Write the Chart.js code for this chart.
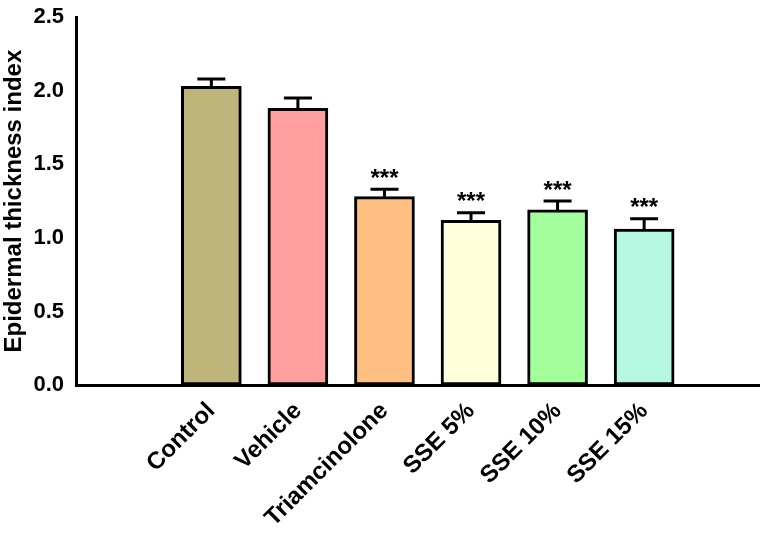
<!DOCTYPE html>
<html>
<head>
<meta charset="utf-8">
<script src="https://cdn.jsdelivr.net/npm/chart.js@4"></script>
<style>
  html, body { margin: 0; padding: 0; background: #fff; }
  #wrap { width: 760px; height: 559px; }
</style>
</head>
<body>
<div id="wrap"><canvas id="chart"></canvas></div>
<script>
// Data
const groups = ['Control', 'Vehicle', 'Triamcinolone', 'SSE 5%', 'SSE 10%', 'SSE 15%'];
const means = [2.03, 1.88, 1.28, 1.12, 1.19, 1.06];
const errors = [0.05, 0.07, 0.05, 0.05, 0.06, 0.07];
const marks = ['', '', '***', '***', '***', '***'];
const colors = ['#bdb57a', '#ff9e9e', '#ffbf80', '#ffffdc', '#a3ff9c', '#b5f7e0'];
const yTicks = [0, 0.5, 1.0, 1.5, 2.0, 2.5];

const FONT = 'Arial, "Liberation Sans", sans-serif';

// Error bars and significance stars
const errorBarPlugin = {
    id: 'errorBars',
    afterDatasetsDraw(chart) {
        const ctx = chart.ctx;
        const x = chart.scales.x, y = chart.scales.y;
        ctx.save();
        ctx.strokeStyle = '#000';
        ctx.lineWidth = 3;
        means.forEach((m, i) => {
            const px = x.getPixelForValue(i + 1);
            const top = y.getPixelForValue(m + errors[i]);
            const base = y.getPixelForValue(m);
            ctx.beginPath();
            ctx.moveTo(px, base);
            ctx.lineTo(px, top);
            ctx.moveTo(px - 14, top);
            ctx.lineTo(px + 14, top);
            ctx.stroke();
            if (marks[i]) {
                ctx.fillStyle = '#000';
                ctx.font = 'bold 24px ' + FONT;
                ctx.textAlign = 'center';
                ctx.textBaseline = 'bottom';
                ctx.fillText(marks[i], px, top + 2);
            }
        });
        ctx.restore();
    }
};

const ctx = document.getElementById('chart').getContext('2d');
new Chart(ctx, {
    type: 'bar',
    data: {
        datasets: [{
            data: means.map((v, i) => ({ x: i + 1, y: v })),
            backgroundColor: colors,
            borderColor: '#000',
            borderWidth: 3,
            borderSkipped: false,
            barThickness: 60
        }]
    },
    options: {
        responsive: true,
        maintainAspectRatio: false,
        animation: false,
        layout: { padding: { top: 16, right: 0, left: 0, bottom: 0 } },
        plugins: { legend: { display: false }, tooltip: { enabled: false } },
        scales: {
            x: {
                type: 'linear',
                min: 0.095,
                max: 6.68,
                afterBuildTicks: axis => { axis.ticks = groups.map((g, i) => ({ value: i + 1 })); },
                afterFit: axis => { axis.height = 174; },
                ticks: {
                    callback: v => groups[v - 1],
                    minRotation: 45,
                    maxRotation: 45,
                    padding: 4,
                    color: '#000',
                    font: { family: FONT, size: 24, weight: 'bold' }
                },
                grid: { display: false },
                border: { color: '#000', width: 3 }
            },
            y: {
                min: 0,
                max: 2.5,
                afterBuildTicks: axis => { axis.ticks = yTicks.map(v => ({ value: v })); },
                afterFit: axis => { axis.width = 76; },
                ticks: {
                    callback: v => v.toFixed(1),
                    padding: 4,
                    color: '#000',
                    font: { family: FONT, size: 22, weight: 'bold' }
                },
                grid: { display: false, drawTicks: true, tickLength: 8, tickColor: '#000', tickWidth: 3 },
                border: { color: '#000', width: 3 },
                title: {
                    display: true,
                    text: 'Epidermal thickness index',
                    color: '#000',
                    font: { family: FONT, size: 24, weight: 'bold' },
                    padding: 0
                }
            }
        }
    },
    plugins: [errorBarPlugin]
});
</script>
</body>
</html>
